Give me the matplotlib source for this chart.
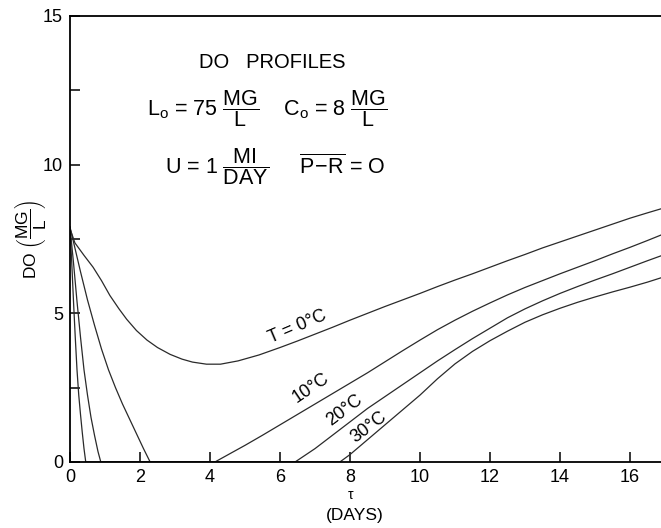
import matplotlib
matplotlib.use("Agg")
import matplotlib.pyplot as plt
from matplotlib.ticker import FixedLocator

plt.rcParams['font.family'] = ['Liberation Sans', 'DejaVu Sans']
plt.rcParams['mathtext.fontset'] = 'custom'
plt.rcParams['mathtext.rm'] = 'Liberation Sans'
plt.rcParams['mathtext.it'] = 'Liberation Sans:italic'
plt.rcParams['mathtext.bf'] = 'Liberation Sans:bold'

# DO profiles (tau in days, DO in mg/L)
t0 = [0, 0.14, 0.4, 0.66, 0.9, 1.14, 1.4, 1.62, 1.9, 2.2, 2.5, 2.86, 3.2, 3.5, 3.9, 4.3,
      4.8, 5.4, 6.0, 6.5, 7.0, 7.5, 8.0, 8.5, 9.0, 9.5, 10.0, 10.5, 11.0, 11.5, 12.0,
      12.5, 13.0, 13.5, 14.0, 14.5, 15.0, 15.5, 16.0, 16.5, 16.9]
do0 = [7.85, 7.37, 6.95, 6.55, 6.1, 5.6, 5.15, 4.8, 4.42, 4.1, 3.85, 3.62, 3.46, 3.36, 3.29, 3.29,
       3.4, 3.6, 3.85, 4.07, 4.3, 4.53, 4.77, 5.0, 5.23, 5.45, 5.67, 5.9, 6.12, 6.33, 6.55,
       6.77, 6.98, 7.2, 7.4, 7.6, 7.8, 8.0, 8.2, 8.38, 8.52]

t10 = [0, 0.15, 0.3, 0.5, 0.7, 0.9, 1.1, 1.3, 1.5, 1.7, 1.9, 2.1, 2.29, 4.14, 4.6, 5.0,
       5.5, 6.0, 6.5, 7.0, 7.5, 8.0, 8.5, 9.0, 9.5, 10.0, 10.5, 11.0, 11.5, 12.0, 12.5,
       13.0, 13.5, 14.0, 14.5, 15.0, 15.5, 16.0, 16.5, 16.9]
do10 = [7.9, 7.15, 6.4, 5.45, 4.6, 3.8, 3.1, 2.5, 1.95, 1.45, 0.95, 0.45, 0, 0, 0.3, 0.56,
        0.9, 1.25, 1.6, 1.95, 2.3, 2.65, 3.0, 3.37, 3.74, 4.1, 4.45, 4.77, 5.07, 5.35, 5.62,
        5.87, 6.1, 6.33, 6.55, 6.77, 7.0, 7.22, 7.45, 7.64]

t20 = [0, 0.1, 0.2, 0.3, 0.4, 0.5, 0.6, 0.7, 0.8, 0.88, 6.43, 7.0, 7.5, 8.0, 8.5, 9.0,
       9.5, 10.0, 10.5, 11.0, 11.5, 12.0, 12.5, 13.0, 13.5, 14.0, 14.5, 15.0, 15.5, 16.0,
       16.5, 16.9]
do20 = [7.9, 6.7, 5.4, 4.2, 3.1, 2.25, 1.5, 0.9, 0.35, 0, 0, 0.45, 0.9, 1.35, 1.8, 2.2,
        2.6, 3.0, 3.4, 3.78, 4.15, 4.5, 4.85, 5.15, 5.42, 5.67, 5.9, 6.12, 6.33, 6.55,
        6.77, 6.94]

t30 = [0, 0.05, 0.1, 0.15, 0.2, 0.25, 0.3, 0.35, 0.4, 0.45, 7.71, 8.0, 8.5, 9.0, 9.5,
       10.0, 10.5, 11.0, 11.5, 12.0, 12.5, 13.0, 13.5, 14.0, 14.5, 15.0, 15.5, 16.0, 16.5,
       16.9]
do30 = [7.9, 6.7, 5.4, 4.2, 3.1, 2.25, 1.6, 1.0, 0.45, 0, 0, 0.25, 0.75, 1.25, 1.75,
        2.25, 2.8, 3.3, 3.72, 4.08, 4.4, 4.7, 4.95, 5.17, 5.37, 5.55, 5.72, 5.88, 6.05,
        6.2]

curves = [(t0, do0), (t10, do10), (t20, do20), (t30, do30)]
curve_labels = ['T = 0°C', '10°C', '20°C', '30°C']
label_pos = [(6.49, 4.54, 23), (6.88, 2.49, 34), (7.83, 1.75, 37), (8.54, 1.18, 37)]

xticks = [0, 2, 4, 6, 8, 10, 12, 14, 16]
yticks = [0, 2.5, 5, 7.5, 10, 12.5, 15]
ytick_labels = ['0', '', '5', '', '10', '', '15']

fig = plt.figure(figsize=(6.61, 5.28), dpi=100)
ax = fig.add_axes([70 / 661, 1 - 462 / 528, 1 - 70 / 661, (462 - 16) / 528])

for (t, do) in curves:
    ax.plot(t, do, color='#2a2a2a', lw=0.9, solid_joinstyle='round')

for lab, (x, y, rot) in zip(curve_labels, label_pos):
    ax.text(x, y, lab, rotation=rot, ha='center', va='center', fontsize=13,
            rotation_mode='anchor')

ax.set_xlim(0, 591 / 35)
ax.set_ylim(0, 15)
ax.xaxis.set_major_locator(FixedLocator(xticks))
ax.set_xticklabels([str(v) for v in xticks])
ax.yaxis.set_major_locator(FixedLocator(yticks))
ax.set_yticklabels(ytick_labels)
ax.tick_params(direction='in', length=7.5, width=1.1, labelsize=13, pad=5)

ax.spines['right'].set_visible(False)
for s in ['left', 'bottom', 'top']:
    ax.spines[s].set_linewidth(1.3)

# parameter block
ax.text(5.77, 13.43, 'DO   PROFILES', ha='center', va='center', fontsize=14.5)
ax.text(2.2, 11.9,
        r'L$_{\mathrm{o}}$ = 75 $\dfrac{\mathrm{MG}}{\mathrm{L}}$    C$_{\mathrm{o}}$ = 8 $\dfrac{\mathrm{MG}}{\mathrm{L}}$',
        ha='left', va='center', fontsize=15.5)
ax.text(2.71, 9.93,
        r'U = 1 $\dfrac{\mathrm{MI}}{\mathrm{DAY}}$     $\overline{\mathrm{P}\!-\!\mathrm{R}}$ = O',
        ha='left', va='center', fontsize=15.5)

ax.text(-0.068, 0.5, r'DO $\left(\dfrac{\mathrm{MG}}{\mathrm{L}}\right)$', rotation=90,
        transform=ax.transAxes, ha='center', va='center', fontsize=12.5)
ax.text(0.475, -0.075, 'τ', transform=ax.transAxes, ha='center', va='center', fontsize=10)
ax.text(0.482, -0.12, '(DAYS)', transform=ax.transAxes, ha='center', va='center', fontsize=12.5)

fig.savefig('out.png', dpi=100)
